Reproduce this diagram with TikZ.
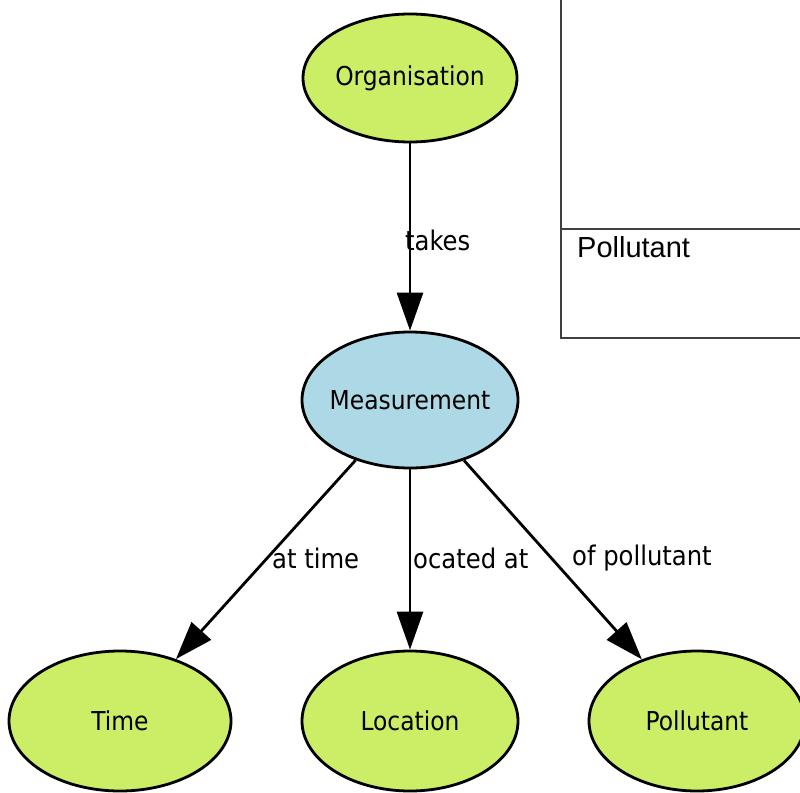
\documentclass[tikz,border=0pt]{standalone}
\usepackage{fontspec}
\setmainfont{Liberation Sans}
\newfontfamily\nodefont{DejaVu Sans Condensed}
\usetikzlibrary{arrows.meta,shapes.geometric}
\definecolor{nodegreen}{HTML}{CCEE66}
\definecolor{nodeblue}{HTML}{ADD8E6}
\newcommand{\zw}[1]{\makebox[0pt]{#1}}
\begin{document}
\begin{tikzpicture}[x=1pt,y=-1pt,
  concept/.style={ellipse,draw=black,line width=2.8pt,fill=nodegreen,minimum width=214pt,minimum height=128pt,inner sep=0pt,font=\nodefont\fontsize{26}{30}\selectfont},
  central/.style={concept,fill=nodeblue,minimum width=216pt,minimum height=136pt},
  link/.style={draw=black,line width=2.8pt,-{Triangle[length=38pt,width=26pt]}},
  lbl/.style={font=\nodefont\fontsize{27}{30}\selectfont,inner sep=0pt}]
\useasboundingbox (0,0) rectangle (800,792);
\fill[white] (0,0) rectangle (800,792);
% box at top right
\coordinate (bt) at (561,0);
\coordinate (bm) at (561,229);
\coordinate (bb) at (561,338);
\coordinate (rm) at (800,229);
\coordinate (rb) at (800,338);
\draw[line width=1.2pt,draw=black!75] (bt) -- (bb) -- (rb);
\draw[line width=1.2pt,draw=black!75] (bm) -- (rm);
\node[anchor=west,font=\fontsize{29}{34}\selectfont,inner sep=0pt] (boxtext) at (577,247) {Pollutant};
% nodes
\node[concept] (org) at (410,78) {\zw{Organisation}};
\node[central] (meas) at (410,400) {\zw{Measurement}};
\node[concept,minimum width=222pt,minimum height=140pt] (time) at (120,721) {\zw{Time}};
\node[concept,minimum width=216pt,minimum height=140pt] (loc) at (410,721) {\zw{Location}};
\node[concept,minimum width=216pt,minimum height=140pt] (poll) at (697,721) {\zw{Pollutant}};
% connectors
\draw[link] (org) -- (meas);
\draw[link] (meas) -- (time);
\draw[link] (meas) -- (loc);
\draw[link] (meas) -- (poll);
% labels
\node[lbl,anchor=west] (ltakes) at (405,240) {takes};
\node[lbl,anchor=west] (ltime) at (272,558) {at time};
\node[lbl,anchor=west] (lloc) at (413,558) {ocated at};
\node[lbl,anchor=west] (lpoll) at (572,558) {of pollutant};
\end{tikzpicture}
\end{document}
